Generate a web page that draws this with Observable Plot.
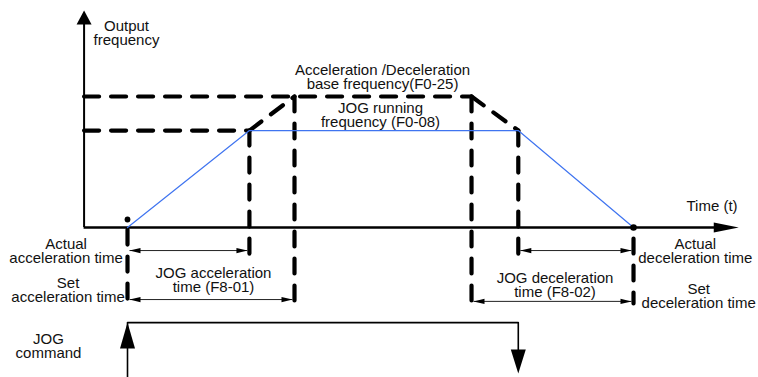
<!DOCTYPE html>
<html>
<head>
<meta charset="utf-8">
<script src="https://cdn.jsdelivr.net/npm/d3@7"></script>
<script src="https://cdn.jsdelivr.net/npm/@observablehq/plot@0.6"></script>
<style>
  html, body { margin: 0; padding: 0; background: #fff; }
</style>
</head>
<body>
<div id="chart"></div>
<script>
// ---- Data (time in s-like units, frequency in Hz-like units; lower lanes use negative levels) ----
const baseFreq = 50;          // Acceleration/Deceleration base frequency (F0-25)
const jogFreq = 37;           // JOG running frequency (F0-08)
const tStart = 0;             // JOG command on
const tAccelEnd = 7.3;        // actual acceleration ends
const tSetAccelEnd = 10;      // set acceleration time end
const tSetDecelStart = 20.6;  // set deceleration start
const tDecelStart = 23.4;     // JOG command off / actual deceleration start
const tEnd = 30.3;            // output reaches zero

const axisT = -2.6;           // frequency axis position on time axis
const axisTop = 82.8;         // tip of frequency axis arrow
const axisRight = 36.6;       // tip of time axis arrow

// output-frequency curve
const curveT = [tStart, tAccelEnd, tDecelStart, tEnd];
const curveF = [0, jogFreq, jogFreq, 0];

// dashed guide segments
const dashT1 = [axisT, axisT, tAccelEnd, tSetAccelEnd, tAccelEnd, tSetDecelStart, tSetDecelStart, tDecelStart, tStart, tEnd];
const dashF1 = [baseFreq, jogFreq, jogFreq, baseFreq, jogFreq, baseFreq, baseFreq, jogFreq, -0.8, -4.2];
const dashT2 = [tSetDecelStart, tAccelEnd, tSetAccelEnd, tSetAccelEnd, tAccelEnd, tSetDecelStart, tDecelStart, tDecelStart, tStart, tEnd];
const dashF2 = [baseFreq, jogFreq, baseFreq, -29.0, -10.7, -29.0, jogFreq, -10.7, -29.0, -29.0];

// dimension lines (double arrows)
const dimFrom = [0.12, 0.12, 23.52, 20.72];
const dimTo = [7.18, 9.88, 30.18, 30.18];
const dimLevel = [-8.8, -27.5, -8.8, -28.2];

// JOG command trace
const cmdT = [tStart, tStart, tDecelStart, tDecelStart];
const cmdF = [-57.3, -36.3, -36.3, -50];

// marker dots
const dotT = [tStart, tEnd];
const dotF = [3.05, 0];
const dotR = [2, 2.6];

// text labels
const labelText = [
  "Output\nfrequency",
  "Acceleration /Deceleration\nbase frequency(F0-25)",
  "JOG running\nfrequency (F0-08)",
  "Time (t)",
  "Actual\nacceleration time",
  "Set\nacceleration time",
  "JOG acceleration\ntime (F8-01)",
  "JOG\ncommand",
  "Actual\ndeceleration time",
  "JOG deceleration\ntime (F8-02)",
  "Set\ndeceleration time"
];
const labelT = [-0.06, 15.27, 15.15, 35.0, -3.68, -3.56, 5.15, -4.73, 34.0, 25.6, 34.2];
const labelF = [74.0, 57.4, 42.7, 8.0, -9.16, -24.0, -20.4, -45.6, -9.16, -22.3, -26.3];

// ---- Build tables ----
const curve = curveT.map((t, i) => ({t, f: curveF[i]}));
const dashes = dashT1.map((t, i) => ({t1: t, f1: dashF1[i], t2: dashT2[i], f2: dashF2[i]}));
const dims = dimFrom.map((a, i) => ({a, b: dimTo[i], f: dimLevel[i]}));
const cmd = cmdT.map((t, i) => ({t, f: cmdF[i]}));
const dots = dotT.map((t, i) => ({t, f: dotF[i], r: dotR[i]}));
const labels = labelText.map((s, i) => ({s, t: labelT[i], f: labelF[i]}));

// triangle arrow-head symbols, tip at the anchor point
function head(dir, L, W) {
  return {
    draw(ctx) {
      ctx.moveTo(0, 0);
      if (dir === "up") { ctx.lineTo(-W, L); ctx.lineTo(W, L); }
      else if (dir === "down") { ctx.lineTo(-W, -L); ctx.lineTo(W, -L); }
      else if (dir === "right") { ctx.lineTo(-L, -W); ctx.lineTo(-L, W); }
      else { ctx.lineTo(L, -W); ctx.lineTo(L, W); }
      ctx.closePath();
    }
  };
}

const font = "Liberation Sans, Arial, Helvetica, sans-serif";

const chart = Plot.plot({
  width: 758,
  height: 377,
  margin: 0,
  style: {fontFamily: font, background: "#fff"},
  x: {domain: [-7.605, 37.784], axis: null},
  y: {domain: [-57.25, 86.64], axis: null},
  marks: [
    // axes
    Plot.ruleY([0], {x1: axisT, x2: axisRight - 1.2, stroke: "black", strokeWidth: 2.6}),
    Plot.ruleX([axisT], {y1: 0, y2: axisTop - 4, stroke: "black", strokeWidth: 2}),
    Plot.dot([{t: axisT, f: axisTop}], {x: "t", y: "f", symbol: head("up", 14, 7.5), fill: "black", stroke: "none"}),
    Plot.dot([{t: axisRight, f: 0}], {x: "t", y: "f", symbol: head("right", 25, 5), fill: "black", stroke: "none"}),
    // dashed guides
    Plot.link(dashes, {x1: "t1", y1: "f1", x2: "t2", y2: "f2", stroke: "black", strokeWidth: 4.2,
      strokeDasharray: "15,12", strokeLinecap: "round", strokeLinejoin: "round"}),
    // output frequency curve
    Plot.line(curve, {x: "t", y: "f", stroke: "#3f74f0", strokeWidth: 1.2}),
    // marker dots
    Plot.dot(dots, {x: "t", y: "f", r: "r", fill: "black", stroke: "none"}),
    // dimension lines
    Plot.link(dims, {x1: "a", x2: "b", y1: "f", y2: "f", stroke: "#222", strokeWidth: 1}),
    Plot.dot(dims, {x: "a", y: "f", symbol: head("left", 11, 2.6), fill: "black", stroke: "none"}),
    Plot.dot(dims, {x: "b", y: "f", symbol: head("right", 11, 2.6), fill: "black", stroke: "none"}),
    // JOG command
    Plot.line(cmd, {x: "t", y: "f", stroke: "black", strokeWidth: 1.6}),
    Plot.dot([{t: tStart, f: -36.3}], {x: "t", y: "f", symbol: head("up", 26, 7.5), fill: "black", stroke: "none"}),
    Plot.dot([{t: tDecelStart, f: -55.7}], {x: "t", y: "f", symbol: head("down", 24, 7.5), fill: "black", stroke: "none"}),
    // labels
    Plot.text(labels, {x: "t", y: "f", text: "s", fontSize: 15, fontFamily: font, lineHeight: 0.93,
      textAnchor: "middle", fill: "#111"})
  ]
});

document.getElementById("chart").appendChild(chart);
</script>
</body>
</html>
